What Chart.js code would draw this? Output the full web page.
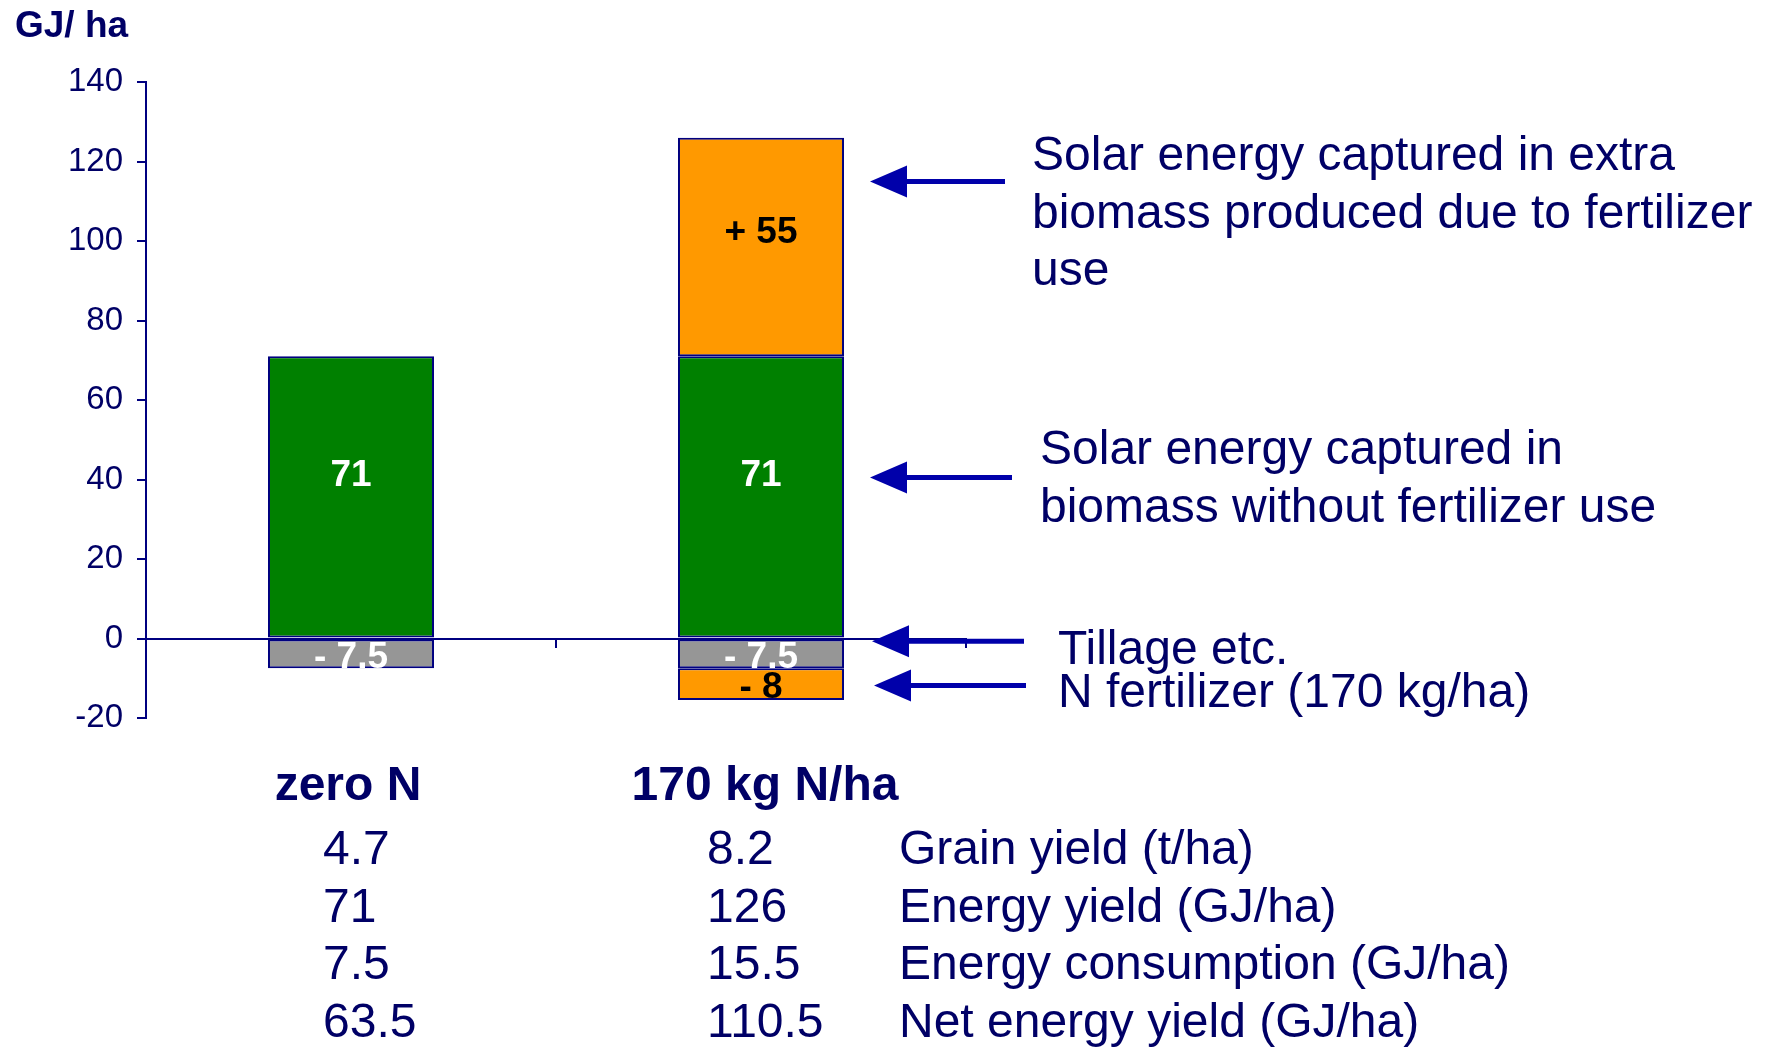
<!DOCTYPE html>
<html>
<head>
<meta charset="utf-8">
<script src="https://cdn.jsdelivr.net/npm/chart.js@4/dist/chart.umd.min.js"></script>
<style>
  html, body { margin: 0; padding: 0; background: #fff; }
  #wrap { width: 1771px; height: 1047px; }
</style>
</head>
<body>
<div id="wrap"><canvas id="energyChart" width="1771" height="1047"></canvas></div>
<script>
// Datos del gráfico
const categories = ['zero N', '170 kg N/ha'];
const baseEnergy = [71, 71];        // verde
const extraEnergy = [null, 55];     // naranja arriba
const tillage = [-7.5, -7.5];       // gris
const nFertilizer = [null, -8];     // naranja abajo

const yMin = -20, yMax = 140, yStep = 20;

// Tabla bajo el gráfico
const rowLabels = ['Grain yield (t/ha)', 'Energy yield (GJ/ha)', 'Energy consumption (GJ/ha)', 'Net energy yield (GJ/ha)'];
const zeroNValues = ['4.7', '71', '7.5', '63.5'];
const fertValues = ['8.2', '126', '15.5', '110.5'];

// Anotaciones de la derecha
const notes = [
    { lines: ['Solar energy captured in extra', 'biomass produced due to fertilizer', 'use'], target: 115 },
    { lines: ['Solar energy captured in', 'biomass without fertilizer use'], target: 40.5 },
    { lines: ['Tillage etc.'], target: -0.7 },
    { lines: ['N fertilizer (170 kg/ha)'], target: -11.8 }
];

const NAVY = '#000066';
const AXIS = '#000080';
const ARROW = '#0000aa';
const FONT = '"Liberation Sans", Arial, sans-serif';

const labelStyle = [
    { color: '#ffffff', fmt: v => String(v), dy: -21 },
    { color: '#000000', fmt: v => '+ ' + v, dy: -14 },
    { color: '#ffffff', fmt: v => '- ' + Math.abs(v), dy: 4 },
    { color: '#000000', fmt: v => '- ' + Math.abs(v), dy: 4 }
];
const catLabelShift = [-3, 4];

function drawArrow(ctx, tipX, endX, y) {
    const headLen = 37, headHalf = 16;
    ctx.save();
    ctx.strokeStyle = ARROW;
    ctx.fillStyle = ARROW;
    ctx.lineWidth = 5;
    ctx.beginPath();
    ctx.moveTo(tipX + headLen - 2, y);
    ctx.lineTo(endX, y);
    ctx.stroke();
    ctx.beginPath();
    ctx.moveTo(tipX, y);
    ctx.lineTo(tipX + headLen, y - headHalf);
    ctx.lineTo(tipX + headLen, y + headHalf);
    ctx.closePath();
    ctx.fill();
    ctx.restore();
}

const overlay = {
    id: 'overlay',
    afterDatasetsDraw(chart) {
        const ctx = chart.ctx;
        ctx.save();
        ctx.font = 'bold 37px ' + FONT;
        ctx.textAlign = 'center';
        ctx.textBaseline = 'middle';
        chart.data.datasets.forEach((ds, i) => {
            const meta = chart.getDatasetMeta(i);
            meta.data.forEach((el, j) => {
                const v = ds.data[j];
                if (v === null || v === undefined) return;
                const st = labelStyle[i];
                ctx.fillStyle = st.color;
                ctx.fillText(st.fmt(v), el.x, (el.y + el.base) / 2 + st.dy);
            });
        });
        ctx.restore();
    },
    afterDraw(chart) {
        const ctx = chart.ctx;
        const xs = chart.scales.x;
        const ys = chart.scales.y;
        ctx.save();
        ctx.fillStyle = NAVY;
        ctx.textBaseline = 'middle';

        // Título del eje
        ctx.font = 'bold 37px ' + FONT;
        ctx.textAlign = 'left';
        ctx.fillText('GJ/ ha', 15, 27);

        // Etiquetas de categorías
        ctx.font = 'bold 48px ' + FONT;
        ctx.textAlign = 'center';
        categories.forEach((c, i) => {
            ctx.fillText(c, xs.getPixelForValue(i) + catLabelShift[i], 787);
        });

        // Tabla
        ctx.font = '48px ' + FONT;
        ctx.textAlign = 'left';
        rowLabels.forEach((lbl, r) => {
            const y = 851 + r * 57.6;
            ctx.fillText(zeroNValues[r], 323, y);
            ctx.fillText(fertValues[r], 707, y);
            ctx.fillText(lbl, 899, y);
        });

        // Flechas y notas
        const arrowX = [[870, 1005], [870, 1012], [872, 1024], [874, 1026]];
        const textPos = [[1032, 157], [1040, 451], [1058, 651], [1058, 694]];
        notes.forEach((n, i) => {
            drawArrow(ctx, arrowX[i][0], arrowX[i][1], ys.getPixelForValue(n.target));
            ctx.fillStyle = NAVY;
            ctx.font = '48px ' + FONT;
            n.lines.forEach((line, k) => {
                ctx.fillText(line, textPos[i][0], textPos[i][1] + k * 57.6);
            });
        });
        ctx.restore();
    }
};

const barCommon = {
    borderColor: AXIS,
    borderWidth: 2,
    borderSkipped: false,
    barPercentage: 0.405,
    categoryPercentage: 1
};

new Chart(document.getElementById('energyChart'), {
    type: 'bar',
    data: {
        labels: categories,
        datasets: [
            Object.assign({ label: 'Solar energy without fertilizer', data: baseEnergy, backgroundColor: '#008000' }, barCommon),
            Object.assign({ label: 'Extra biomass', data: extraEnergy, backgroundColor: '#ff9900' }, barCommon),
            Object.assign({ label: 'Tillage etc.', data: tillage, backgroundColor: '#969696' }, barCommon),
            Object.assign({ label: 'N fertilizer', data: nFertilizer, backgroundColor: '#ff9900' }, barCommon)
        ]
    },
    options: {
        responsive: false,
        animation: false,
        devicePixelRatio: 1,
        layout: { padding: { left: 0, top: 82, right: 805, bottom: 329 } },
        plugins: {
            legend: { display: false },
            tooltip: { enabled: false }
        },
        scales: {
            x: {
                stacked: true,
                position: { y: 0 },
                ticks: { display: false },
                grid: {
                    offset: true,
                    drawOnChartArea: false,
                    drawTicks: true,
                    tickLength: 8,
                    color: AXIS,
                    lineWidth: 2
                },
                border: { color: AXIS, width: 2 }
            },
            y: {
                stacked: true,
                min: yMin,
                max: yMax,
                afterFit: scale => { scale.width = 146; },
                ticks: {
                    stepSize: yStep,
                    color: NAVY,
                    padding: 14,
                    font: { family: FONT, size: 33 }
                },
                grid: {
                    drawOnChartArea: false,
                    drawTicks: true,
                    tickLength: 9,
                    color: AXIS,
                    lineWidth: 2
                },
                border: { color: AXIS, width: 2 }
            }
        }
    },
    plugins: [overlay]
});
</script>
</body>
</html>
